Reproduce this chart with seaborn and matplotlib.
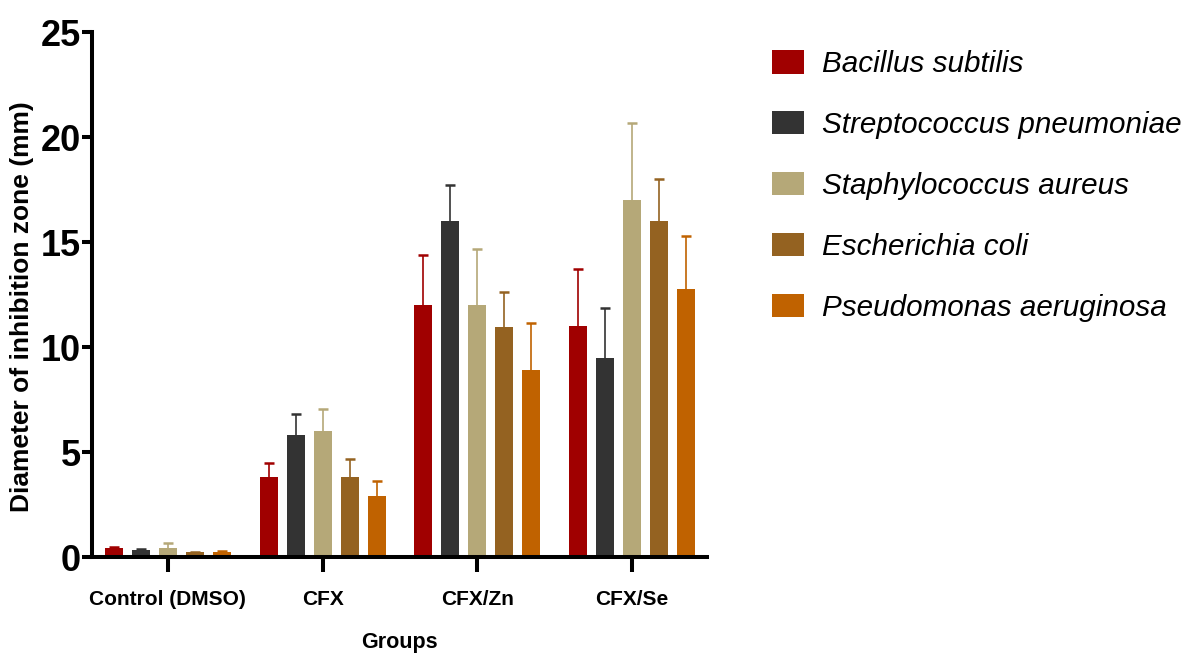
import numpy as np
import pandas as pd
import matplotlib
matplotlib.use("Agg")
import matplotlib.pyplot as plt
import seaborn as sns

# Data
groups = ["Control (DMSO)", "CFX", "CFX/Zn", "CFX/Se"]
species = ["Bacillus subtilis", "Streptococcus pneumoniae", "Staphylococcus aureus",
           "Escherichia coli", "Pseudomonas aeruginosa"]
colors = ["#A00000", "#333333", "#B5A878", "#946221", "#C06200"]

# mean zone diameter (mm), one list per species, in group order
bacillus = [0.45, 3.8, 12.0, 11.0]
strepto = [0.33, 5.8, 16.0, 9.5]
staph = [0.42, 6.0, 12.0, 17.0]
ecoli = [0.22, 3.8, 10.95, 16.0]
pseudo = [0.25, 2.9, 8.9, 12.75]

# upper error (SD) per species
bacillus_sd = [0.05, 0.7, 2.4, 2.7]
strepto_sd = [0.04, 1.0, 1.7, 2.35]
staph_sd = [0.25, 1.05, 2.65, 3.65]
ecoli_sd = [0.03, 0.85, 1.65, 2.0]
pseudo_sd = [0.03, 0.7, 2.25, 2.55]

means = [bacillus, strepto, staph, ecoli, pseudo]
sds = [bacillus_sd, strepto_sd, staph_sd, ecoli_sd, pseudo_sd]

rows = []
for sp, m in zip(species, means):
    for g, v in zip(groups, m):
        rows.append({"Groups": g, "Species": sp, "Diameter": v})
df = pd.DataFrame(rows)

# ----------------------------------------
# Plot
# ----------------------------------------
sns.set_style("ticks")
plt.rcParams["font.family"] = ["Liberation Sans", "DejaVu Sans"]
for key in ["text.color", "axes.labelcolor", "xtick.color", "ytick.color", "axes.edgecolor"]:
    plt.rcParams[key] = "black"

fig = plt.figure(figsize=(11.9, 6.57), dpi=100)
ax = fig.add_axes([0.0773, 0.1522, 0.5168, 0.799])

sns.barplot(data=df, x="Groups", y="Diameter", hue="Species", order=groups,
            hue_order=species, palette=colors, errorbar=None, width=0.8725,
            gap=0.333, saturation=1, linewidth=0, ax=ax, legend=True)

# upper error bars only (drop the lower cap)
for cont, sd, col in zip(ax.containers, sds, colors):
    xs = [b.get_x() + b.get_width() / 2 for b in cont]
    hs = [b.get_height() for b in cont]
    eb = ax.errorbar(xs, hs, yerr=[np.zeros(len(sd)), sd], fmt="none", ecolor=col,
                     elinewidth=1.2, capsize=3.6, capthick=1.8, zorder=1)
    eb[1][0].remove()

ax.set_xlim(-0.491, 3.485)
ax.set_ylim(0, 25)
ax.set_yticks([0, 5, 10, 15, 20, 25])
sns.despine(ax=ax)
ax.spines["left"].set_linewidth(2.9)
ax.spines["bottom"].set_linewidth(2.9)

ax.tick_params(axis="y", length=7, width=2.9, pad=1, labelsize=26)
ax.tick_params(axis="x", length=11, width=2.9, pad=13, labelsize=15)
for lab in ax.get_yticklabels() + ax.get_xticklabels():
    lab.set_fontweight("bold")

ax.set_xlabel("Groups", fontsize=15.5, fontweight="bold", labelpad=16)
ax.set_ylabel("")
fig.text(0.0185, 0.534, "Diameter of inhibition zone (mm)", rotation=90,
         fontsize=19, fontweight="bold", ha="center", va="center")

handles, labels = ax.get_legend_handles_labels()
ax.legend(handles, labels, loc="upper left", bbox_to_anchor=(0.636, 0.946),
          bbox_transform=fig.transFigure, frameon=False, borderpad=0,
          handlelength=1.1, handleheight=0.83, handletextpad=0.6,
          labelspacing=1.11, prop={"size": 21.3, "style": "italic"})

fig.savefig("out.png", dpi=100)
